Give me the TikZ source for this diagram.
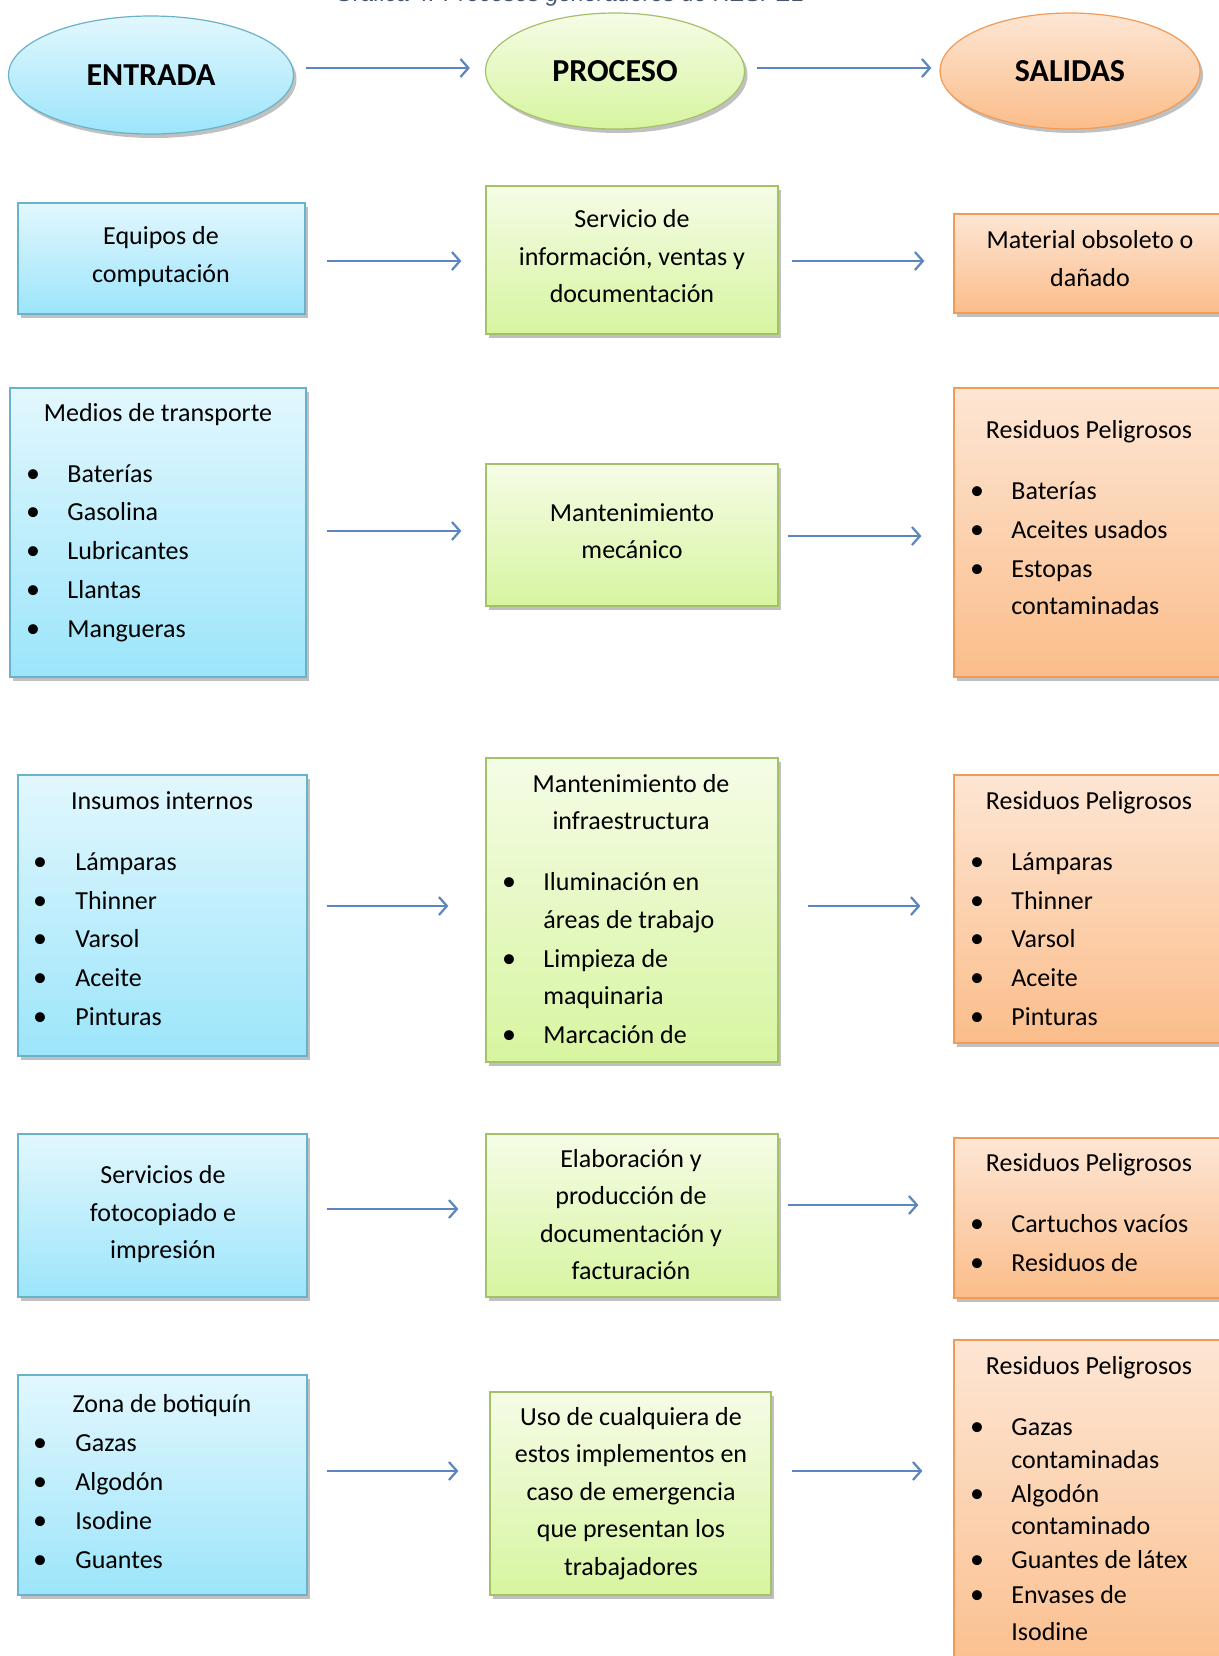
\documentclass[tikz,border=0pt]{standalone}
\usepackage{fontspec}
\setmainfont{Carlito}
\newfontfamily\titlefont{Liberation Sans}
\usetikzlibrary{shapes.geometric,shadows,arrows.meta}
\definecolor{bluetop}{HTML}{E2F7FD}
\definecolor{bluebot}{HTML}{9CE5FB}
\definecolor{bluedge}{HTML}{6AB2CB}
\definecolor{greentop}{HTML}{F5FCE6}
\definecolor{greenbot}{HTML}{D7F5A0}
\definecolor{greenedge}{HTML}{A3C267}
\definecolor{orangetop}{HTML}{FDE6D4}
\definecolor{orangebot}{HTML}{FBBD8A}
\definecolor{orangeedge}{HTML}{F39A55}
\definecolor{arrowblue}{HTML}{5B86C0}
\definecolor{titlegray}{HTML}{44546A}
\newcommand\bx[6]{\node[#1, minimum width={(#5-#3)*0.5pt}, minimum height={(#6-#4)*0.5pt}] (#2) at ({(#3+#5)/2},{(#4+#6)/2}) {};}
\newcommand\tl[4]{\node[txt] (#1) at (#2,#3) {#4};}
\newcommand\bitem[5]{\node[txt] (#1b) at (#2,#4) {\bulletglyph}; \node[txl] (#1) at (#3,#4) {#5};}
\newcommand\contline[4]{\node[txl] (#1) at (#2,#3) {#4};}
\newcommand\bulletglyph{{\fontsize{14}{15}\selectfont •}}
\tikzset{
  x=0.5pt, y=-0.5pt,
  shd/.style={drop shadow={shadow xshift=1.5pt, shadow yshift=-2pt, opacity=.35, fill=black!70}},
  basebox/.style={rectangle, line width=0.6pt, inner sep=0, shd},
  ebox/.style={basebox, draw=bluedge, top color=bluetop, bottom color=bluebot},
  pbox/.style={basebox, draw=greenedge, top color=greentop, bottom color=greenbot},
  sbox/.style={basebox, draw=orangeedge, top color=orangetop, bottom color=orangebot},
  ell/.style={ellipse, line width=0.6pt, inner sep=0, shd, font=\fontsize{16}{18}\selectfont\bfseries},
  txt/.style={font=\fontsize{13}{15}\selectfont, inner sep=0, anchor=base},
  txl/.style={txt, anchor=base west},
  arr/.style={draw=arrowblue, line width=1.2pt, -{Straight Barb[length=4pt,width=9pt,line width=1.1pt]}}
}
\begin{document}
\begin{tikzpicture}
\useasboundingbox (0,0) rectangle (1219,1656);
\clip (0,0) rectangle (1219,1656);
\fill[white] (0,0) rectangle (1219,1656);

% title (cut off at the top, as in the reference)
\node[inner sep=0, anchor=base, text=titlegray, font=\titlefont\itshape\fontsize{11.5}{13}\selectfont] (title) at (570,1) {Gráfica 4. Procesos generadores de RESPEL};

% header ellipses
\node[ell, draw=bluedge, top color=bluetop, bottom color=bluebot, minimum width=142.5pt, minimum height=59pt] (hE) at (151,75) {ENTRADA};
\node[ell, draw=greenedge, top color=greentop, bottom color=greenbot, minimum width=129.5pt, minimum height=58pt] (hP) at (615,71) {PROCESO};
\node[ell, draw=orangeedge, top color=orangetop, bottom color=orangebot, minimum width=130pt, minimum height=58pt] (hS) at (1070,71) {SALIDAS};
\draw[arr] ([xshift=6pt]hE.east |- 0,68) -- ([xshift=-7.5pt]hP.west |- 0,68);
\draw[arr] ([xshift=6pt]hP.east |- 0,68) -- ([xshift=-4pt]hS.west |- 0,68);

% boxes
\bx{ebox}{e1}{18}{203}{305}{314}
\bx{pbox}{p1}{486}{186}{778}{334}
\bx{sbox}{s1}{954}{214}{1240}{313}
\bx{ebox}{e2}{10}{388}{306}{677}
\bx{pbox}{p2}{486}{464}{778}{606}
\bx{sbox}{s2}{954}{388}{1240}{677}
\bx{ebox}{e3}{18}{775}{307}{1056}
\bx{pbox}{p3}{486}{758}{778}{1062}
\bx{sbox}{s3}{954}{775}{1240}{1043}
\bx{ebox}{e4}{18}{1134}{307}{1297}
\bx{pbox}{p4}{486}{1134}{778}{1297}
\bx{sbox}{s4}{954}{1138}{1240}{1298}
\bx{ebox}{e5}{18}{1375}{307}{1595}
\bx{pbox}{p5}{490}{1392}{771}{1595}
\bx{sbox}{s5}{954}{1340}{1240}{1690}

% arrows
\draw[arr] ([xshift=10.5pt]e1.east |- 0,261) -- ([xshift=-12pt]p1.west |- 0,261);
\draw[arr] ([xshift=6.5pt]p1.east |- 0,261) -- ([xshift=-14.5pt]s1.west |- 0,261);
\draw[arr] ([xshift=10pt]e2.east |- 0,531) -- ([xshift=-12pt]p2.west |- 0,531);
\draw[arr] ([xshift=4.5pt]p2.east |- 0,536) -- ([xshift=-16pt]s2.west |- 0,536);
\draw[arr] ([xshift=9.5pt]e3.east |- 0,906) -- ([xshift=-18.5pt]p3.west |- 0,906);
\draw[arr] ([xshift=14.5pt]p3.east |- 0,906) -- ([xshift=-16.5pt]s3.west |- 0,906);
\draw[arr] ([xshift=9.5pt]e4.east |- 0,1209) -- ([xshift=-13.5pt]p4.west |- 0,1209);
\draw[arr] ([xshift=4.5pt]p4.east |- 0,1205) -- ([xshift=-17.5pt]s4.west |- 0,1205);
\draw[arr] ([xshift=9.5pt]e5.east |- 0,1471) -- ([xshift=-15.5pt]p5.west |- 0,1471);
\draw[arr] ([xshift=10pt]p5.east |- 0,1471) -- ([xshift=-15.5pt]s5.west |- 0,1471);

% row 1 texts
\tl{e1a}{161}{244}{Equipos de}
\tl{e1b}{161}{282}{computación}
\tl{p1a}{632}{227}{Servicio de}
\tl{p1b}{632}{265}{información, ventas y}
\tl{p1c}{632}{302}{documentación}
\tl{s1a}{1090}{248}{Material obsoleto o}
\tl{s1b}{1090}{286}{dañado}

% row 2 texts
\tl{e2t}{158}{421}{Medios de transporte}
\bitem{e2i1}{33}{67}{482}{Baterías}
\bitem{e2i2}{33}{67}{520}{Gasolina}
\bitem{e2i3}{33}{67}{559}{Lubricantes}
\bitem{e2i4}{33}{67}{598}{Llantas}
\bitem{e2i5}{33}{67}{637}{Mangueras}
\tl{p2a}{632}{521}{Mantenimiento}
\tl{p2b}{632}{558}{mecánico}
\tl{s2t}{1089}{438}{Residuos Peligrosos}
\bitem{s2i1}{977}{1011}{499}{Baterías}
\bitem{s2i2}{977}{1011}{538}{Aceites usados}
\bitem{s2i3}{977}{1011}{577}{Estopas}
\contline{s2i3c}{1011}{614}{contaminadas}

% row 3 texts
\tl{e3t}{162}{809}{Insumos internos}
\bitem{e3i1}{40}{75}{870}{Lámparas}
\bitem{e3i2}{40}{75}{909}{Thinner}
\bitem{e3i3}{40}{75}{947}{Varsol}
\bitem{e3i4}{40}{75}{986}{Aceite}
\bitem{e3i5}{40}{75}{1025}{Pinturas}
\tl{p3a}{631}{792}{Mantenimiento de}
\tl{p3b}{631}{829}{infraestructura}
\bitem{p3i1}{509}{543}{890}{Iluminación en}
\contline{p3i1c}{543}{928}{áreas de trabajo}
\bitem{p3i2}{509}{543}{967}{Limpieza de}
\contline{p3i2c}{543}{1004}{maquinaria}
\bitem{p3i3}{509}{543}{1043}{Marcación de}
\tl{s3t}{1089}{809}{Residuos Peligrosos}
\bitem{s3i1}{977}{1011}{870}{Lámparas}
\bitem{s3i2}{977}{1011}{909}{Thinner}
\bitem{s3i3}{977}{1011}{947}{Varsol}
\bitem{s3i4}{977}{1011}{986}{Aceite}
\bitem{s3i5}{977}{1011}{1025}{Pinturas}

% row 4 texts
\tl{e4a}{163}{1183}{Servicios de}
\tl{e4b}{163}{1221}{fotocopiado e}
\tl{e4c}{163}{1258}{impresión}
\tl{p4a}{631}{1167}{Elaboración y}
\tl{p4b}{631}{1204}{producción de}
\tl{p4c}{631}{1242}{documentación y}
\tl{p4d}{631}{1279}{facturación}
\tl{s4t}{1089}{1171}{Residuos Peligrosos}
\bitem{s4i1}{977}{1011}{1232}{Cartuchos vacíos}
\bitem{s4i2}{977}{1011}{1271}{Residuos de}

% row 5 texts
\tl{e5t}{162}{1412}{Zona de botiquín}
\bitem{e5i1}{40}{75}{1451}{Gazas}
\bitem{e5i2}{40}{75}{1490}{Algodón}
\bitem{e5i3}{40}{75}{1529}{Isodine}
\bitem{e5i4}{40}{75}{1568}{Guantes}
\tl{p5a}{631}{1425}{Uso de cualquiera de}
\tl{p5b}{631}{1462}{estos implementos en}
\tl{p5c}{631}{1500}{caso de emergencia}
\tl{p5d}{631}{1537}{que presentan los}
\tl{p5e}{631}{1575}{trabajadores}
\tl{s5t}{1089}{1374}{Residuos Peligrosos}
\bitem{s5i1}{977}{1011}{1435}{Gazas}
\contline{s5i1c}{1011}{1468}{contaminadas}
\bitem{s5i2}{977}{1011}{1502}{Algodón}
\contline{s5i2c}{1011}{1534}{contaminado}
\bitem{s5i3}{977}{1011}{1568}{Guantes de látex}
\bitem{s5i4}{977}{1011}{1603}{Envases de}
\contline{s5i4c}{1011}{1640}{Isodine}
\end{tikzpicture}
\end{document}
